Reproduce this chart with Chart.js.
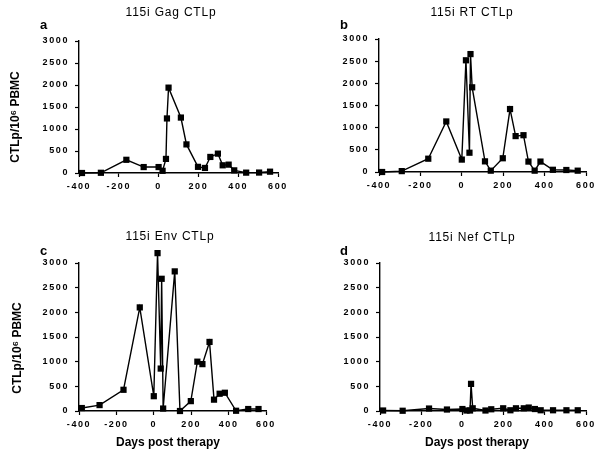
<!DOCTYPE html>
<html>
<head>
<meta charset="utf-8">
<script src="https://cdn.jsdelivr.net/npm/chart.js@4"></script>
<style>
    body { margin: 0; background: #fff; }
    #wrap { position: relative; width: 598px; height: 454px; background: #fff; }
    canvas { position: absolute; }
</style>
</head>
<body>
<div id="wrap">
    <canvas id="gag" width="299" height="220" style="left:0;top:0"></canvas>
    <canvas id="rt" width="299" height="220" style="left:299px;top:0"></canvas>
    <canvas id="env" width="299" height="234" style="left:0;top:220px"></canvas>
    <canvas id="nef" width="299" height="234" style="left:299px;top:220px"></canvas>
</div>
<script>
// days relative to start of therapy (same sampling for all four panels)
var days = [-385, -290, -162, -75, 0, 20, 37, 42, 50, 112, 140, 198, 233, 260, 298, 322, 352, 380, 440, 505, 560];

// CTLp per 10^6 PBMC
var gag = [0, 5, 300, 135, 135, 50, 320, 1240, 1940, 1260, 650, 140, 115, 365, 440, 175, 190, 60, 8, 10, 30];
var rt  = [0, 20, 300, 1140, 280, 2520, 435, 2660, 1910, 240, 30, 310, 1420, 810, 830, 235, 30, 235, 50, 45, 30];
var env = [60, 120, 430, 2100, 300, 3200, 860, 2680, 50, 2830, 0, 200, 1000, 950, 1400, 230, 350, 370, 5, 40, 40];
var nef = [10, 5, 50, 30, 40, 10, 10, 550, 55, 10, 35, 55, 15, 55, 55, 70, 40, 15, 15, 15, 15];

var dayTicks = [-400, -200, 0, 200, 400, 600];
var ctlTicks = [0, 500, 1000, 1500, 2000, 2500, 3000];

var FONT = '"Liberation Sans", Arial, Helvetica, sans-serif';

// titles / panel letters / axis titles
var panelText = {
    id: 'panelText',
    beforeLayout: function (chart) { chart.ctx.letterSpacing = '1.6px'; },
    beforeDraw: function (chart) { chart.ctx.letterSpacing = '1.6px'; },
    // let points above 3000 still be drawn (env panel)
    beforeDatasetsDraw: function (chart) {
        var a = chart.chartArea;
        chart._savedArea = a;
        chart.chartArea = {left: a.left - 10, right: a.right + 10, top: a.top - 30, bottom: a.bottom + 10,
            width: a.width + 20, height: a.height + 40};
    },
    afterDatasetsDraw: function (chart) {
        chart.chartArea = chart._savedArea;
    },
    afterDraw: function (chart, args, o) {
        var ctx = chart.ctx;
        ctx.save();
        ctx.fillStyle = '#000';
        ctx.textBaseline = 'alphabetic';

        ctx.letterSpacing = '0.8px';
        ctx.font = '12px ' + FONT;
        ctx.textAlign = 'center';
        ctx.fillText(o.title, o.titleX, o.titleY);

        ctx.letterSpacing = '0px';
        ctx.font = 'bold 13px ' + FONT;
        ctx.textAlign = 'left';
        ctx.fillText(o.letter, o.letterX, o.letterY);

        if (o.xTitle) {
            ctx.font = 'bold 12px ' + FONT;
            ctx.textAlign = 'center';
            ctx.textBaseline = 'middle';
            ctx.fillText(o.xTitle, o.xTitleX, o.xTitleY);
        }
        if (o.yTitle) {
            ctx.translate(o.yTitleX, o.yTitleY);
            ctx.rotate(-Math.PI / 2);
            ctx.font = 'bold 12px ' + FONT;
            ctx.textAlign = 'center';
            ctx.textBaseline = 'middle';
            ctx.fillText(o.yTitle, 0, 0);
        }
        ctx.restore();
    }
};

function gerar(id, values, p) {
    new Chart(document.getElementById(id), {
        type: 'scatter',
        data: {
            datasets: [{
                data: days.map(function (d, i) { return {x: d, y: values[i]}; }),
                showLine: true,
                borderColor: '#000',
                borderWidth: 1.4,
                backgroundColor: '#000',
                pointStyle: 'rect',
                pointRadius: 4.4,
                pointBorderWidth: 0,
                clip: false
            }]
        },
        options: {
            responsive: false,
            animation: false,
            layout: {padding: {top: p.top, right: p.right, left: 0, bottom: 0}},
            plugins: {
                legend: {display: false},
                tooltip: {enabled: false},
                panelText: p.text
            },
            scales: {
                x: {
                    type: 'linear',
                    min: -400,
                    max: 600,
                    afterBuildTicks: function (s) { s.ticks = dayTicks.map(function (v) { return {value: v}; }); },
                    afterFit: function (s) { s.height = p.xHeight; s.paddingLeft = 0; s.paddingRight = 0; },
                    border: {color: '#000', width: 1.4},
                    grid: {drawOnChartArea: false, tickLength: 4, tickWidth: 1.2, tickColor: '#000'},
                    ticks: {
                        color: '#000',
                        padding: 4,
                        maxRotation: 0,
                        font: {family: FONT, size: 9, weight: 'bold'},
                        callback: function (v) { return String(v); }
                    }
                },
                y: {
                    type: 'linear',
                    min: 0,
                    max: 3000,
                    afterBuildTicks: function (s) { s.ticks = ctlTicks.map(function (v) { return {value: v}; }); },
                    afterFit: function (s) { s.width = p.yWidth; s.paddingTop = 0; s.paddingBottom = 0; },
                    border: {color: '#000', width: 1.4},
                    grid: {drawOnChartArea: false, tickLength: 4, tickWidth: 1.2, tickColor: '#000'},
                    ticks: {
                        color: '#000',
                        padding: 6,
                        font: {family: FONT, size: 9, weight: 'bold'},
                        callback: function (v) { return String(v); }
                    }
                }
            }
        },
        plugins: [panelText]
    });
}

var yLabel = 'CTLp/10\u2076 PBMC';

gerar('gag', gag, {
    top: 41, right: 21, xHeight: 47, yWidth: 79,
    text: {title: '115i Gag CTLp', titleX: 171, titleY: 16, letter: 'a', letterX: 40, letterY: 29,
        yTitle: yLabel, yTitleX: 16, yTitleY: 117}
});
gerar('rt', rt, {
    top: 39, right: 12, xHeight: 48, yWidth: 80,
    text: {title: '115i RT CTLp', titleX: 173, titleY: 16, letter: 'b', letterX: 41, letterY: 29}
});
gerar('env', env, {
    top: 43, right: 33, xHeight: 43, yWidth: 79,
    text: {title: '115i Env CTLp', titleX: 170, titleY: 20, letter: 'c', letterX: 40, letterY: 35,
        xTitle: 'Days post therapy', xTitleX: 168, xTitleY: 223,
        yTitle: yLabel, yTitleX: 18, yTitleY: 128}
});
gerar('nef', nef, {
    top: 43, right: 12, xHeight: 43, yWidth: 81,
    text: {title: '115i Nef CTLp', titleX: 173, titleY: 21, letter: 'd', letterX: 41, letterY: 35,
        xTitle: 'Days post therapy', xTitleX: 178, xTitleY: 223}
});
</script>
</body>
</html>
